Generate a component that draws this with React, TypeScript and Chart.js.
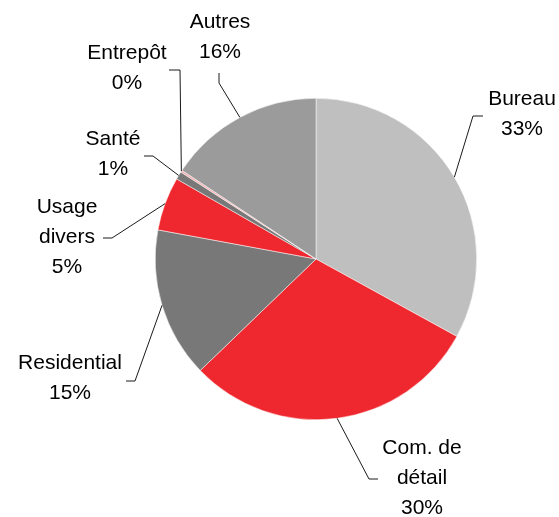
import { useEffect, useRef } from "react";
import { Chart, registerables } from "chart.js";

Chart.register(...registerables);

const categories = ["Bureau", "Com. de détail", "Residential", "Usage divers", "Santé", "Entrepôt", "Autres"];
const shares = [33, 29.8, 15.1, 5.4, 0.8, 0.2, 15.7];
const labelLines = [["Bureau"], ["Com. de", "détail"], ["Residential"], ["Usage", "divers"], ["Santé"], ["Entrepôt"], ["Autres"]];

const sliceColors = ["#BFBFBF", "#EE282E", "#787878", "#EE282E", "#787878", "#F4A7A9", "#9B9B9B"];

// label placement (annotation layout): text centre x, first line y, leader start & elbow
const labelLayout = [
  { x: 522, y: 99, start: [483, 116], elbow: [473, 116] },
  { x: 422, y: 448, start: [378, 479], elbow: [369, 479] },
  { x: 70, y: 363, start: [126, 381], elbow: [135, 381] },
  { x: 67, y: 207, start: [103, 238], elbow: [112, 238] },
  { x: 113, y: 139, start: [144, 156], elbow: [153, 156] },
  { x: 127, y: 53, start: [169, 70], elbow: [180, 70] },
  { x: 220, y: 22, start: [219, 73], elbow: [219, 83] },
];

const LINE_H = 30;

const labelPlugin = {
  id: "pieLabels",
  afterDatasetsDraw(chart: any) {
    const ctx = chart.ctx;
    const meta = chart.getDatasetMeta(0);
    ctx.save();
    meta.data.forEach((arc: any, i: number) => {
      const { x, y, startAngle, endAngle, outerRadius } = arc.getProps(
        ["x", "y", "startAngle", "endAngle", "outerRadius"],
        true
      );
      const mid = (startAngle + endAngle) / 2;
      const px = x + Math.cos(mid) * outerRadius;
      const py = y + Math.sin(mid) * outerRadius;
      const lay = labelLayout[i];
      ctx.strokeStyle = "#1a1a1a";
      ctx.lineWidth = 1;
      ctx.beginPath();
      ctx.moveTo(lay.start[0], lay.start[1]);
      ctx.lineTo(lay.elbow[0], lay.elbow[1]);
      ctx.lineTo(px, py);
      ctx.stroke();

      const lines = [...labelLines[i], Math.round(shares[i]) + "%"];
      ctx.fillStyle = "#000000";
      ctx.font = '21px "Liberation Sans", Arial, sans-serif';
      ctx.textAlign = "center";
      ctx.textBaseline = "middle";
      lines.forEach((t, k) => {
        ctx.fillText(t, lay.x, lay.y + k * LINE_H);
      });
    });
    ctx.restore();
  },
};

export default function App() {
  const ref = useRef<HTMLCanvasElement | null>(null);
  useEffect(() => {
    document.body.style.margin = "0";
    if (!ref.current) return;
    const chart = new Chart(ref.current, {
      type: "pie",
      data: {
        labels: categories,
        datasets: [
          {
            data: shares,
            backgroundColor: sliceColors,
            borderColor: "#ffffff",
            borderWidth: 0.5,
          },
        ],
      },
      options: {
        responsive: false,
        animation: false,
        layout: { padding: { left: 155, right: 82, top: 98, bottom: 97 } },
        plugins: {
          legend: { display: false },
          tooltip: { enabled: false },
        },
      },
      plugins: [labelPlugin],
    });
    return () => chart.destroy();
  }, []);
  return (
    <div style={{ width: 559, height: 517, background: "#fff" }}>
      <canvas ref={ref} width={559} height={517} />
    </div>
  );
}
